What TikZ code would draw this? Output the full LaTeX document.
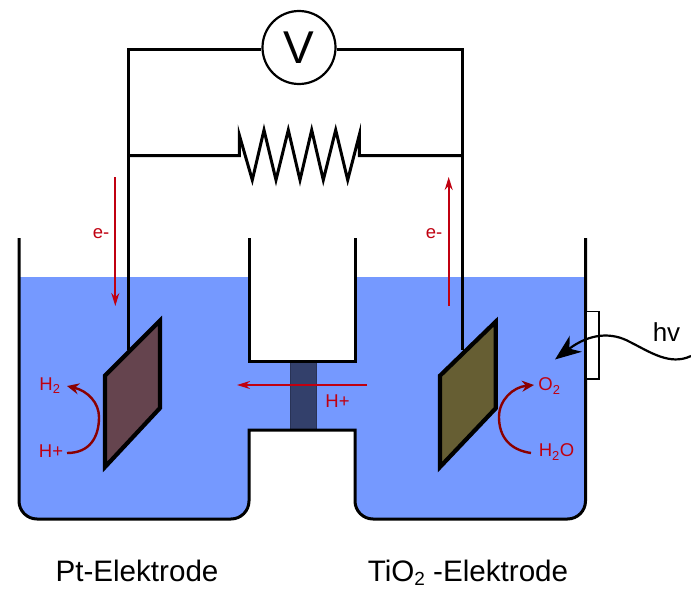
\documentclass[tikz,border=0pt]{standalone}
\usepackage{fontspec}
\setmainfont{Liberation Sans}
\usepackage{xcolor}
\usetikzlibrary{arrows.meta}
\definecolor{waterblue}{HTML}{7599FF}
\definecolor{ptbrown}{HTML}{65444E}
\definecolor{tiolive}{HTML}{665E33}
\definecolor{bridgeblue}{HTML}{33406B}
\definecolor{flowred}{HTML}{C00010}
\definecolor{reactred}{HTML}{8B0000}
\tikzset{
    wire/.style={line width=3pt},
    electrode/.style={draw, line width=4.2pt, miter limit=8},
    flow/.style={flowred, line width=1.7pt, -{Stealth[length=13pt,width=8pt]}},
    react/.style={reactred, line width=2.4pt, -{Stealth[length=12pt,width=11pt,inset=4pt]}},
    redlabel/.style={flowred, font=\fontsize{18.5}{20}\selectfont, inner sep=0pt},
    caption/.style={font=\fontsize{29.6}{32}\selectfont, inner sep=0pt, anchor=base}
}
\begin{document}
\begin{tikzpicture}[x=1pt,y=-1pt]
\useasboundingbox (0,0) rectangle (691,589);
% water
\fill[waterblue] (19,277) [rounded corners=18pt] -- (19,519) -- (249,519) [sharp corners] -- (249,430) -- (355,430) [rounded corners=18pt] -- (355,519) -- (585.5,519) [sharp corners] -- (585.5,277) -- (355,277) -- (355,361) -- (249,361) -- (249,277) -- cycle;
% membrane
\filldraw[bridgeblue!80!black, fill=bridgeblue, line width=1.2pt] (290.7,361) rectangle (316.7,430);
% walls
\draw[wire] (19,238) [rounded corners=18pt] -- (19,519) -- (249,519) [sharp corners] -- (249,430) -- (355,430) [rounded corners=18pt] -- (355,519) -- (585.5,519) [sharp corners] -- (585.5,238);
\draw[wire] (249,238) -- (249,361) -- (355,361) -- (355,238);
% window
\filldraw[fill=white, line width=1.5pt] (586,311.7) rectangle (599,379);
% circuit
\node[draw, circle, fill=white, line width=2.2pt, minimum size=73pt, inner sep=0pt, font=\fontsize{46}{48}\selectfont] (meter) at (299,47.5) {V};
\coordinate (ptfoot) at (128.7,350);
\coordinate (tifoot) at (462,350);
\coordinate (ptjoin) at (128.7,155.7);
\coordinate (tijoin) at (462,155.7);
\coordinate (restleft) at (239.3,155.7);
\coordinate (restright) at (359.3,155.7);
\draw[wire] (meter.west |- 0,49.3) -- (128.7,49.3) -- (ptfoot);
\draw[wire] (meter.east |- 0,49.3) -- (462,49.3) -- (tifoot);
\draw[wire] (ptjoin) -- (restleft) -- (239.3,135) -- (252.3,180) -- (264,130) -- (276,180) -- (288.3,130) -- (300,180) -- (311.7,130) -- (323.3,180) -- (335.7,130) -- (347.7,180) -- (359.3,135) -- (restright) -- (tijoin);
% electrodes
\filldraw[electrode, fill=ptbrown] (105,375.7) -- (160,320.7) -- (160,408) -- (105,467) -- cycle;
\filldraw[electrode, fill=tiolive] (440,375.7) -- (495.7,321.7) -- (495.7,408.3) -- (440,467) -- cycle;
% electron and proton flow
\node[redlabel] (eleft) at (101,233.5) {e-};
\node[redlabel] (eright) at (434,233.5) {e-};
\coordinate (eleftstart) at (115.3,177);
\coordinate (eleftend) at (115.3,306);
\coordinate (erightstart) at (448.7,306);
\coordinate (erightend) at (448.7,177);
\draw[flow] (eleftstart) -- (eleftend);
\draw[flow] (erightstart) -- (erightend);
\coordinate (hstart) at (367,385);
\coordinate (hend) at (237,385);
\draw[flow] (hstart) -- (hend);
\node[redlabel] (hbridge) at (337.5,401) {H+};
% reactions
\node[redlabel] (htwo) at (50,386) {H\textsubscript{2}};
\node[redlabel] (hplus) at (51,451.5) {H+};
\node[redlabel] (otwo) at (549.5,386) {O\textsubscript{2}};
\node[redlabel] (water) at (556.5,452) {H\textsubscript{2}O};
\draw[react] (67,453) .. controls (90,453) and (99,437) .. (99,417) .. controls (99,403) and (88,391) .. (67,386);
\draw[react] (531,453) .. controls (510,450) and (499,437) .. (499,417) .. controls (499,400) and (513,387) .. (534,385);
% light
\node[font=\fontsize{26}{28}\selectfont, inner sep=0pt] (light) at (666.5,332.5) {hv};
\coordinate (lightstart) at (691,356);
\coordinate (lightend) at (555,359.5);
\draw[line width=2.2pt, -{Stealth[length=26pt,width=20pt,inset=8pt]}] (lightstart) .. controls (670,366) and (650,352) .. (630,342) .. controls (612,332) and (590,333) .. (lightend);
% captions
\node[caption] (ptname) at (137,581) {Pt-Elektrode};
\node[caption] (tiname) at (468,581) {TiO\raisebox{-4pt}{\fontsize{19}{19}\selectfont 2} -Elektrode};
\end{tikzpicture}
\end{document}
